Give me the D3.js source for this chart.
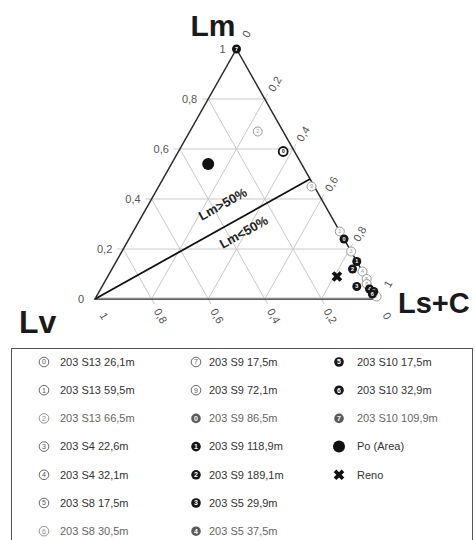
<!DOCTYPE html>
<html>
<head>
<meta charset="utf-8">
<script src="https://cdn.jsdelivr.net/npm/d3@7"></script>
<style>
  html, body { margin: 0; padding: 0; background: #fff; }
  svg { display: block; font-family: "Liberation Sans", Arial, sans-serif; }
</style>
</head>
<body>
<svg id="chart" width="475" height="540"></svg>
<script>
// Ternary diagram of Lm / Ls+C / Lv fractions with sample legend.

// Sample markers: digit, style ("open" ring or "filled" disc) and label
const sampleDigits = ["0","1","2","3","4","5","6","7","9","0","1","2","3","4","5","6","7"];
const sampleStyles = ["open","open","open","open","open","open","open","open","open",
                      "filled","filled","filled","filled","filled","filled","filled","filled"];
const sampleNames = ["203 S13 26,1m","203 S13 59,5m","203 S13 66,5m","203 S4 22,6m","203 S4 32,1m",
                     "203 S8 17,5m","203 S8 30,5m","203 S9 17,5m","203 S9 72,1m","203 S9 86,5m",
                     "203 S9 118,9m","203 S9 189,1m","203 S5 29,9m","203 S5 37,5m",
                     "203 S10 17,5m","203 S10 32,9m","203 S10 109,9m"];
// Fractions per sample
const lmValues  = [0.59, 0.27, 0.67, 0.19, 0.11, 0.08, 0.06, 0.01, 0.45, 0.24, 0.15, 0.12, 0.05, 0.04, 0.03, 0.02, 1.00];
const lscValues = [0.37, 0.73, 0.24, 0.81, 0.89, 0.92, 0.93, 0.99, 0.54, 0.76, 0.85, 0.85, 0.90, 0.95, 0.97, 0.97, 0.00];
const lvValues  = [0.04, 0.00, 0.09, 0.00, 0.00, 0.00, 0.01, 0.00, 0.01, 0.00, 0.00, 0.03, 0.05, 0.01, 0.00, 0.01, 0.00];

// Reference groups
const poPoint   = [0.54, 0.13, 0.33];   // Lm, Ls+C, Lv
const renoPoint = [0.09, 0.81, 0.10];

// Boundary between Lm>50% and Lm<50% fields (Lm, Ls+C, Lv)
const boundaryStart = [0.00, 0.00, 1.00];
const boundaryEnd   = [0.48, 0.52, 0.00];

// Axis tick values
const gridValues = [0.2, 0.4, 0.6, 0.8];
const tickValues = [0, 0.2, 0.4, 0.6, 0.8, 1];
const tickLabel = v => (v === 0 || v === 1) ? String(v) : String(v).replace(".", ",");

const svg = d3.select("#chart");

// Cartesian scales: X spans Lv vertex -> Ls+C vertex, Y spans base -> Lm apex
const xScale = d3.scaleLinear().domain([0, 1]).range([95, 378]);
const yScale = d3.scaleLinear().domain([0, 1]).range([299, 49]);
const px = (m, s) => xScale(s + m / 2);
const py = m => yScale(m);
const pt = p => [px(p[0], p[1]), py(p[0])];

const plot = svg.append("g");

// Grid lines (light), extended a little past the edges as ticks
const ext = 5 / 250; // tick extension in fraction units
const gridG = plot.append("g").attr("stroke", "#c9c9c9").attr("stroke-width", 1).attr("fill", "none");
gridValues.forEach(v => {
  // constant Lm (horizontal)
  gridG.append("line")
    .attr("x1", px(v, 0) - 6).attr("y1", py(v))
    .attr("x2", px(v, 1 - v) + 3).attr("y2", py(v));
  // constant Ls+C (parallel to left edge)
  gridG.append("line")
    .attr("x1", px(0, v)).attr("y1", py(0))
    .attr("x2", px(1 - v + ext, v)).attr("y2", py(1 - v + ext));
  // constant Lv (parallel to right edge)
  gridG.append("line")
    .attr("x1", px(1 - v, 0)).attr("y1", py(1 - v))
    .attr("x2", px(-ext, 1 - v + ext)).attr("y2", py(-ext));
});

// Triangle outline
const corners = [[1, 0, 0], [0, 1, 0], [0, 0, 1]].map(pt);
plot.append("path")
  .attr("d", d3.line()(corners) + "Z")
  .attr("fill", "none").attr("stroke", "#2a2a2a").attr("stroke-width", 1.5);
plot.append("line")
  .attr("x1", corners[2][0]).attr("y1", corners[2][1] - 1)
  .attr("x2", corners[1][0]).attr("y2", corners[1][1] - 1)
  .attr("stroke", "#bbb").attr("stroke-width", 1);

// Tick labels
const tickG = plot.append("g").attr("fill", "#555").attr("font-size", 11);
tickValues.forEach(v => {
  // Lm on the left edge
  tickG.append("text")
    .attr("x", px(v, 0) - 11).attr("y", py(v) + 4)
    .attr("text-anchor", "end").text(tickLabel(v));
  // Ls+C on the right edge (value 0 at apex)
  const rx = px(1 - v, v) + 10, ry = py(1 - v) - 15;
  tickG.append("text")
    .attr("transform", `translate(${rx},${ry}) rotate(-60)`)
    .attr("text-anchor", "middle").attr("dy", "0.35em").text(tickLabel(v));
  // Lv on the base (value 1 at the left vertex)
  const bx = px(0, 1 - v) + 9, by = py(0) + 17;
  tickG.append("text")
    .attr("transform", `translate(${bx},${by}) rotate(60)`)
    .attr("text-anchor", "middle").attr("dy", "0.35em").text(tickLabel(v));
});

// Field boundary
const b0 = pt(boundaryStart), b1 = pt(boundaryEnd);
plot.append("line")
  .attr("x1", b0[0]).attr("y1", b0[1]).attr("x2", b1[0]).attr("y2", b1[1])
  .attr("stroke", "#111").attr("stroke-width", 1.8);
const ang = Math.atan2(b1[1] - b0[1], b1[0] - b0[0]) * 180 / Math.PI;
plot.append("text")
  .attr("transform", `translate(225,208) rotate(${ang})`)
  .attr("text-anchor", "middle").attr("font-size", 13).attr("font-weight", "bold")
  .attr("fill", "#222").text("Lm>50%");
plot.append("text")
  .attr("transform", `translate(246,236) rotate(${ang})`)
  .attr("text-anchor", "middle").attr("font-size", 13).attr("font-weight", "bold")
  .attr("fill", "#222").text("Lm<50%");

// Vertex titles
svg.append("text").attr("x", 213).attr("y", 36).attr("text-anchor", "middle")
  .attr("font-size", 30).attr("font-weight", "bold").attr("fill", "#1a1a1a").text("Lm");
svg.append("text").attr("x", 19).attr("y", 333)
  .attr("font-size", 32).attr("font-weight", "bold").attr("fill", "#1a1a1a").text("Lv");
svg.append("text").attr("x", 398).attr("y", 313)
  .attr("font-size", 29).attr("font-weight", "bold").attr("fill", "#1a1a1a").text("Ls+C");

// Marker drawing
function drawSample(g, digit, style, r, ring, fontSize) {
  if (style === "filled") {
    g.append("circle").attr("r", r).attr("fill", "#151515");
    g.append("text").attr("text-anchor", "middle").attr("dy", "0.35em")
      .attr("font-size", fontSize).attr("font-weight", "bold").attr("fill", "#fff").text(digit);
  } else {
    g.append("circle").attr("r", r).attr("fill", "#fff")
      .attr("stroke", ring.color).attr("stroke-width", ring.width);
    g.append("text").attr("text-anchor", "middle").attr("dy", "0.35em")
      .attr("font-size", fontSize).attr("font-weight", ring.width > 1.5 ? "bold" : "normal")
      .attr("fill", ring.color).text(digit);
  }
}
const renoPath = d3.symbol().type(d3.symbolCross).size(70)();

// Samples: open rings first, filled discs on top
const sampleIdx = d3.range(sampleDigits.length)
  .sort((a, b) => (sampleStyles[a] === "filled") - (sampleStyles[b] === "filled"));
const markG = plot.append("g");
sampleIdx.forEach(i => {
  const [x, y] = pt([lmValues[i], lscValues[i], lvValues[i]]);
  const g = markG.append("g").attr("transform", `translate(${x},${y})`);
  const ring = i === 0 ? { color: "#111", width: 1.8 } : { color: "#999", width: 1 };
  drawSample(g, sampleDigits[i], sampleStyles[i], 4.5, ring, 5.5);
});
const po = pt(poPoint);
markG.append("circle").attr("cx", po[0]).attr("cy", po[1]).attr("r", 6).attr("fill", "#111");
const rn = pt(renoPoint);
markG.append("path").attr("d", renoPath)
  .attr("transform", `translate(${rn[0]},${rn[1]}) rotate(45)`).attr("fill", "#111");

// Legend
const legend = svg.append("g");
legend.append("rect").attr("x", 11.5).attr("y", 348.5).attr("width", 461).attr("height", 200)
  .attr("fill", "#fff").attr("stroke", "#555").attr("stroke-width", 1);

const legendItems = sampleNames.map((name, i) => ({ kind: "sample", i, name }))
  .concat([{ kind: "po", name: "Po (Area)" }, { kind: "reno", name: "Reno" }]);
const colSymX = [44, 196, 339];
const colTextX = [60, 209, 357];
const rowY0 = 362, rowStep = 28.2, perCol = 7;
const fadedRows = [2, 6];

legendItems.forEach((d, k) => {
  const col = Math.floor(k / perCol), row = k % perCol;
  const y = rowY0 + row * rowStep;
  const faded = fadedRows.includes(row);
  const g = legend.append("g").attr("transform", `translate(${colSymX[col]},${y})`)
    .attr("opacity", faded ? 0.7 : 1);
  if (d.kind === "sample") {
    drawSample(g, sampleDigits[d.i], sampleStyles[d.i], 4.8, { color: "#555", width: 0.9 }, 7);
  } else if (d.kind === "po") {
    g.append("circle").attr("r", 6).attr("fill", "#111");
  } else {
    g.append("path").attr("d", renoPath).attr("transform", "rotate(45)").attr("fill", "#111");
  }
  legend.append("text").attr("x", colTextX[col]).attr("y", y).attr("dy", "0.35em")
    .attr("font-size", 11).attr("fill", faded ? "#666" : "#333").text(d.name);
});
</script>
</body>
</html>
